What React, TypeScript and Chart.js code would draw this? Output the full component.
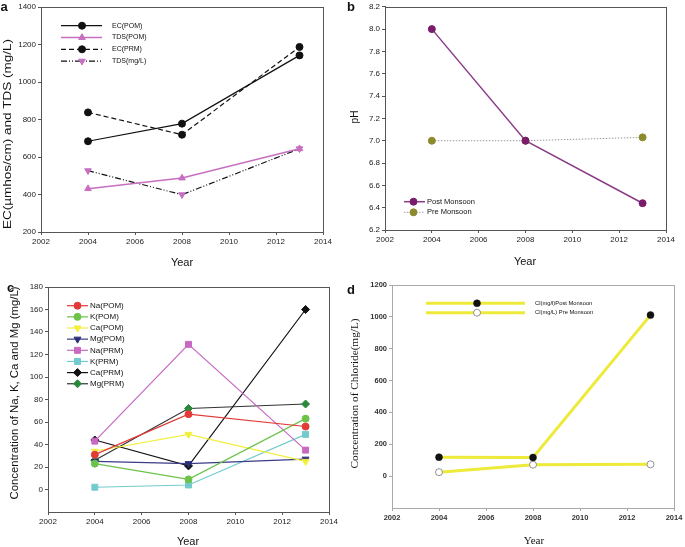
import React, { useEffect, useRef } from 'react';
import { Chart, registerables } from 'chart.js';
Chart.register(...registerables);

// ---------- data ----------
const years = [2004, 2008, 2013];
const xMin = 2002;
const xMax = 2014;
const xStep = 2;

// panel a
const ecPom = [684, 778, 1142];
const tdsPom = [431, 488, 644];
const ecPrm = [838, 719, 1187];
const tdsPrm = [527, 399, 644];
// panel b
const phPost = [8.0, 7.0, 6.44];
const phPre = [7.0, 7.0, 7.03];
// panel c
const naPom = [31, 67, 56];
const kPom = [23, 9, 63];
const caPom = [34, 49, 25];
const mgPom = [25, 23, 27];
const naPrm = [43, 129, 35];
const kPrm = [2, 4, 49];
const caPrm = [44, 21, 160];
const mgPrm = [26, 72, 76];
// panel d
const clPost = [119, 117, 1011];
const clPre = [25, 72, 74];

const SANS = "'Liberation Sans', Arial, sans-serif";
const SERIF = "'Liberation Serif', 'Times New Roman', serif";

const pts = (vals: number[]) => years.map((y, i) => ({ x: y, y: vals[i] }));

function drawMarker(ctx: CanvasRenderingContext2D, style: string, x: number, y: number, r: number, rot: number, fill: string, stroke: string, bw: number) {
  ctx.save();
  ctx.translate(x, y);
  ctx.rotate((rot * Math.PI) / 180);
  ctx.beginPath();
  if (style === 'circle') {
    ctx.arc(0, 0, r, 0, Math.PI * 2);
  } else if (style === 'triangle') {
    ctx.moveTo(0, -r);
    ctx.lineTo(r * 0.866, r * 0.5);
    ctx.lineTo(-r * 0.866, r * 0.5);
    ctx.closePath();
  } else if (style === 'rect') {
    const s = r * Math.SQRT1_2;
    ctx.rect(-s, -s, 2 * s, 2 * s);
  } else if (style === 'rectRot') {
    ctx.moveTo(0, -r);
    ctx.lineTo(r, 0);
    ctx.lineTo(0, r);
    ctx.lineTo(-r, 0);
    ctx.closePath();
  }
  ctx.fillStyle = fill;
  ctx.fill();
  if (bw > 0) {
    ctx.strokeStyle = stroke;
    ctx.lineWidth = bw;
    ctx.stroke();
  }
  ctx.restore();
}

type Spec = {
  pos: { left: number; top: number; width: number; height: number };
  area: { l: number; t: number; r: number; b: number };
  y: { min: number; max: number; step: number; hideBelow?: number; decimals?: number };
  datasets: any[];
  axisColor: string;
  tickFont: any;
  tickColor: string;
  legend: { x1: number; x2: number; mx: number; tx: number; y0: number; dy: number; font: string };
  texts: { text: string; x: number; y: number; font: string; rotate?: boolean; length?: number }[];
};

const lw = 1.2;

const specs: Spec[] = [
  {
    pos: { left: 0, top: 0, width: 340, height: 275 },
    area: { l: 41, t: 7, r: 323, b: 232 },
    y: { min: 200, max: 1400, step: 200 },
    axisColor: '#555',
    tickFont: { family: SANS, size: 8 },
    tickColor: '#222',
    legend: { x1: 61, x2: 102, mx: 82, tx: 112, y0: 25.7, dy: 11.8, font: `7px ${SANS}` },
    datasets: [
      { label: 'EC(POM)', data: pts(ecPom), borderColor: '#111', borderWidth: lw, pointStyle: 'circle', pointRadius: 3.5, pointBackgroundColor: '#111', pointBorderColor: '#111' },
      { label: 'TDS(POM)', data: pts(tdsPom), borderColor: '#c76fc0', borderWidth: 1.6, pointStyle: 'triangle', pointRadius: 3.8, pointBackgroundColor: '#c76fc0', pointBorderColor: '#c76fc0' },
      { label: 'EC(PRM)', data: pts(ecPrm), borderColor: '#111', borderWidth: lw, borderDash: [5, 3], pointStyle: 'circle', pointRadius: 3.5, pointBackgroundColor: '#111', pointBorderColor: '#111' },
      { label: 'TDS(mg/L)', data: pts(tdsPrm), borderColor: '#111', borderWidth: lw, borderDash: [6, 2, 1, 2, 1, 2], pointStyle: 'triangle', pointRotation: 180, pointRadius: 3.8, pointBackgroundColor: '#c76fc0', pointBorderColor: '#c76fc0' },
    ],
    texts: [
      { text: 'a', x: 4, y: 7.5, font: `bold 13px ${SANS}` },
      { text: 'EC(µmhos/cm) and TDS (mg/L)', x: 7.5, y: 134, font: `11px ${SANS}`, rotate: true, length: 190 },
      { text: 'Year', x: 182, y: 263, font: `11px ${SANS}` },
    ],
  },
  {
    pos: { left: 340, top: 0, width: 345, height: 275 },
    area: { l: 45, t: 5, r: 326, b: 230 },
    y: { min: 6.2, max: 8.2, step: 0.2, decimals: 1 },
    axisColor: '#555',
    tickFont: { family: SANS, size: 8 },
    tickColor: '#222',
    legend: { x1: 64, x2: 85, mx: 73.5, tx: 87, y0: 201.7, dy: 10.6, font: `7.5px ${SANS}` },
    datasets: [
      { label: 'Post Monsoon', data: pts(phPost), borderColor: '#8a3c86', borderWidth: 1.5, pointStyle: 'circle', pointRadius: 3.5, pointBackgroundColor: '#7a1c6c', pointBorderColor: '#7a1c6c' },
      { label: 'Pre Monsoon', data: pts(phPre), borderColor: '#999', borderWidth: 1, borderDash: [1.5, 1.5], pointStyle: 'circle', pointRadius: 3.5, pointBackgroundColor: '#8c8a2c', pointBorderColor: '#8c8a2c' },
    ],
    texts: [
      { text: 'b', x: 11, y: 7, font: `bold 13px ${SANS}` },
      { text: 'pH', x: 15, y: 117, font: `10px ${SANS}`, rotate: true },
      { text: 'Year', x: 185, y: 262, font: `11px ${SANS}` },
    ],
  },
  {
    pos: { left: 0, top: 275, width: 340, height: 272 },
    area: { l: 48, t: 12, r: 329, b: 237 },
    y: { min: -20, max: 180, step: 20, hideBelow: 0 },
    axisColor: '#555',
    tickFont: { family: SANS, size: 8 },
    tickColor: '#222',
    legend: { x1: 67, x2: 88, mx: 77.5, tx: 90, y0: 30.7, dy: 11.15, font: `8px ${SANS}` },
    datasets: [
      { label: 'Na(POM)', data: pts(naPom), borderColor: '#e23a36', borderWidth: lw, pointStyle: 'circle', pointRadius: 3.5, pointBackgroundColor: '#e23a36', pointBorderColor: '#e23a36' },
      { label: 'K(POM)', data: pts(kPom), borderColor: '#6cc24a', borderWidth: lw, pointStyle: 'circle', pointRadius: 3.5, pointBackgroundColor: '#6cc24a', pointBorderColor: '#6cc24a' },
      { label: 'Ca(POM)', data: pts(caPom), borderColor: '#f2ef3c', borderWidth: lw, pointStyle: 'triangle', pointRotation: 180, pointRadius: 4, pointBackgroundColor: '#f2ef3c', pointBorderColor: '#f2ef3c' },
      { label: 'Mg(POM)', data: pts(mgPom), borderColor: '#3a3c86', borderWidth: lw, pointStyle: 'triangle', pointRotation: 180, pointRadius: 4, pointBackgroundColor: '#2c2e78', pointBorderColor: '#2c2e78' },
      { label: 'Na(PRM)', data: pts(naPrm), borderColor: '#c86ac4', borderWidth: lw, pointStyle: 'rect', pointRadius: 4.2, pointBackgroundColor: '#c86ac4', pointBorderColor: '#c86ac4' },
      { label: 'K(PRM)', data: pts(kPrm), borderColor: '#72cccc', borderWidth: lw, pointStyle: 'rect', pointRadius: 4.2, pointBackgroundColor: '#72cccc', pointBorderColor: '#72cccc' },
      { label: 'Ca(PRM)', data: pts(caPrm), borderColor: '#111', borderWidth: lw, pointStyle: 'rectRot', pointRadius: 4, pointBackgroundColor: '#111', pointBorderColor: '#111' },
      { label: 'Mg(PRM)', data: pts(mgPrm), borderColor: '#333', borderWidth: lw, pointStyle: 'rectRot', pointRadius: 4, pointBackgroundColor: '#2a8a3a', pointBorderColor: '#2a8a3a' },
    ],
    texts: [
      { text: 'c', x: 10.5, y: 13, font: `bold 13px ${SANS}` },
      { text: 'Concentration of Na, K, Ca and Mg (mg/L)', x: 15, y: 118, font: `11px ${SANS}`, rotate: true, length: 213 },
      { text: 'Year', x: 188, y: 267, font: `11px ${SANS}` },
    ],
  },
  {
    pos: { left: 340, top: 275, width: 345, height: 272 },
    area: { l: 52, t: 10, r: 334, b: 233 },
    y: { min: -200, max: 1200, step: 200, hideBelow: 0 },
    axisColor: '#aaa',
    tickFont: { family: SANS, size: 7.5, weight: 'bold' },
    tickColor: '#333',
    legend: { x1: 86, x2: 185, mx: 137, tx: 195, y0: 28.3, dy: 9.4, font: `5.8px ${SANS}` },
    datasets: [
      { label: 'Cl(mg/l)Post Monsoon', data: pts(clPost), borderColor: '#eeea3a', borderWidth: 3, pointStyle: 'circle', pointRadius: 3.5, pointBackgroundColor: '#111', pointBorderColor: '#111', pointBorderWidth: 0.5 },
      { label: 'Cl(mg/L) Pre Monsoon', data: pts(clPre), borderColor: '#eeea3a', borderWidth: 3, pointStyle: 'circle', pointRadius: 3.5, pointBackgroundColor: '#fff', pointBorderColor: '#777', pointBorderWidth: 0.8 },
    ],
    texts: [
      { text: 'd', x: 11, y: 15, font: `bold 13px ${SANS}` },
      { text: 'Concentration of Chloride(mg/L)', x: 15, y: 118.5, font: `11px ${SERIF}`, rotate: true, length: 150 },
      { text: 'Year', x: 194, y: 266, font: `11px ${SERIF}` },
    ],
  },
];

function makeConfig(spec: Spec): any {
  const { area, pos } = spec;
  const overlay = {
    id: 'overlay',
    afterDraw(chart: any) {
      const ctx: CanvasRenderingContext2D = chart.ctx;
      const ca = chart.chartArea;
      ctx.save();
      ctx.strokeStyle = spec.axisColor;
      ctx.lineWidth = 1;
      ctx.strokeRect(Math.round(ca.left) + 0.5, Math.round(ca.top) + 0.5, Math.round(ca.right - ca.left), Math.round(ca.bottom - ca.top));
      ctx.restore();
      const lg = spec.legend;
      chart.data.datasets.forEach((ds: any, i: number) => {
        const y = lg.y0 + i * lg.dy;
        ctx.save();
        ctx.strokeStyle = ds.borderColor;
        ctx.lineWidth = ds.borderWidth;
        ctx.setLineDash(ds.borderDash || []);
        ctx.beginPath();
        ctx.moveTo(lg.x1, y);
        ctx.lineTo(lg.x2, y);
        ctx.stroke();
        ctx.restore();
        drawMarker(ctx, ds.pointStyle, lg.mx, y, ds.pointRadius, ds.pointRotation || 0, ds.pointBackgroundColor, ds.pointBorderColor, ds.pointBorderWidth ?? 1);
        ctx.save();
        ctx.fillStyle = '#111';
        ctx.font = lg.font;
        ctx.textAlign = 'left';
        ctx.textBaseline = 'middle';
        ctx.fillText(ds.label, lg.tx, y);
        ctx.restore();
      });
      spec.texts.forEach((t) => {
        ctx.save();
        ctx.font = t.font;
        ctx.fillStyle = '#111';
        ctx.textAlign = 'center';
        ctx.textBaseline = 'middle';
        ctx.translate(t.x, t.y);
        if (t.rotate) ctx.rotate(-Math.PI / 2);
        if (t.length) {
          const w = ctx.measureText(t.text).width;
          ctx.scale(t.length / w, 1);
        }
        ctx.fillText(t.text, 0, 0);
        ctx.restore();
      });
    },
  };
  const yCfg = spec.y;
  return {
    type: 'line',
    data: { datasets: spec.datasets.map((d) => ({ ...d, fill: false, tension: 0, pointBorderWidth: d.pointBorderWidth ?? 1 })) },
    options: {
      animation: false,
      responsive: false,
      maintainAspectRatio: false,
      layout: { autoPadding: false, padding: { left: 0, top: area.t, right: pos.width - area.r, bottom: 0 } },
      plugins: { legend: { display: false }, tooltip: { enabled: false }, title: { display: false } },
      scales: {
        x: {
          type: 'linear',
          min: xMin,
          max: xMax,
          afterFit: (s: any) => { s.height = pos.height - area.b; },
          afterBuildTicks: (s: any) => {
            const arr = [];
            for (let v = xMin; v <= xMax; v += xStep) arr.push({ value: v });
            s.ticks = arr;
          },
          ticks: { font: spec.tickFont, color: spec.tickColor, padding: 2, maxRotation: 0, autoSkip: false, callback: (v: number) => String(v) },
          grid: { drawOnChartArea: false, drawTicks: true, tickLength: 3, color: spec.axisColor },
          border: { color: spec.axisColor, width: 1 },
        },
        y: {
          type: 'linear',
          min: yCfg.min,
          max: yCfg.max,
          afterFit: (s: any) => { s.width = area.l; },
          afterBuildTicks: (s: any) => {
            const arr = [];
            const n = Math.round((yCfg.max - yCfg.min) / yCfg.step);
            for (let i = 0; i <= n; i++) arr.push({ value: yCfg.min + i * yCfg.step });
            s.ticks = arr;
          },
          ticks: {
            font: spec.tickFont,
            color: spec.tickColor,
            padding: 2,
            autoSkip: false,
            callback: (v: number) => {
              if (yCfg.hideBelow !== undefined && v < yCfg.hideBelow - 1e-9) return '';
              return yCfg.decimals ? v.toFixed(yCfg.decimals) : String(Math.round(v));
            },
          },
          grid: {
            drawOnChartArea: false,
            drawTicks: true,
            tickLength: 3,
            color: (c: any) => (yCfg.hideBelow !== undefined && c.tick && c.tick.value < yCfg.hideBelow - 1e-9 ? 'rgba(0,0,0,0)' : spec.axisColor),
          },
          border: { color: spec.axisColor, width: 1 },
        },
      },
    },
    plugins: [overlay],
  };
}

function Panel({ spec }: { spec: Spec }) {
  const ref = useRef<HTMLCanvasElement>(null);
  useEffect(() => {
    if (!ref.current) return;
    const chart = new Chart(ref.current, makeConfig(spec));
    return () => chart.destroy();
  }, [spec]);
  const { pos } = spec;
  return (
    <div style={{ position: 'absolute', left: pos.left, top: pos.top, width: pos.width, height: pos.height }}>
      <canvas ref={ref} width={pos.width} height={pos.height} style={{ width: pos.width, height: pos.height, display: 'block' }} />
    </div>
  );
}

export default function App() {
  return (
    <div style={{ position: 'absolute', left: 0, top: 0, width: 685, height: 547, background: '#fff', overflow: 'hidden' }}>
      {specs.map((s, i) => (
        <Panel key={i} spec={s} />
      ))}
    </div>
  );
}
